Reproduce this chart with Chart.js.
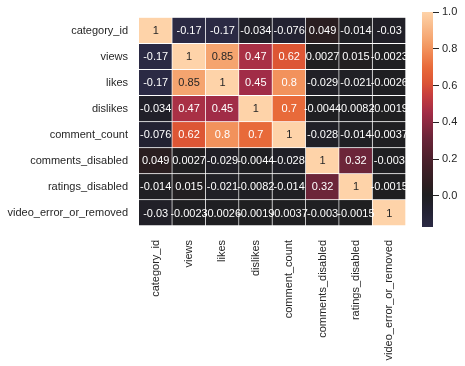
<!DOCTYPE html>
<html>
<head>
<meta charset="utf-8">
<script src="https://cdn.jsdelivr.net/npm/chart.js@4/dist/chart.umd.min.js"></script>
<style>
  html, body { margin: 0; padding: 0; background: #ffffff; }
  #wrap { position: relative; width: 465px; height: 366px; }
  #wrap canvas { position: absolute; left: 0; top: 0; }
</style>
</head>
<body>
<div id="wrap">
  <canvas id="main" width="465" height="366"></canvas>
  <canvas id="cbar" width="465" height="366"></canvas>
</div>
<script>
// ---- data ----
const variables = ["category_id", "views", "likes", "dislikes", "comment_count",
                   "comments_disabled", "ratings_disabled", "video_error_or_removed"];
const row_category_id       = [1, -0.17, -0.17, -0.034, -0.076, 0.049, -0.014, -0.03];
const row_views             = [-0.17, 1, 0.85, 0.47, 0.62, 0.0027, 0.015, -0.0023];
const row_likes             = [-0.17, 0.85, 1, 0.45, 0.8, -0.029, -0.021, -0.0026];
const row_dislikes          = [-0.034, 0.47, 0.45, 1, 0.7, -0.0044, -0.0082, -0.0019];
const row_comment_count     = [-0.076, 0.62, 0.8, 0.7, 1, -0.028, -0.014, -0.0037];
const row_comments_disabled = [0.049, 0.0027, -0.029, -0.0044, -0.028, 1, 0.32, -0.003];
const row_ratings_disabled  = [-0.014, 0.015, -0.021, -0.0082, -0.014, 0.32, 1, -0.0015];
const row_video_error       = [-0.03, -0.0023, -0.0026, -0.0019, -0.0037, -0.003, -0.0015, 1];
const rows = [row_category_id, row_views, row_likes, row_dislikes, row_comment_count,
              row_comments_disabled, row_ratings_disabled, row_video_error];
const colorbarRange = [-0.17, 1];
const colorbarTicks = [0, 0.2, 0.4, 0.6, 0.8, 1.0];

// ---- colormap (value -> rgb) ----
const cmapStops = [
  [-0.17, [43, 42, 68]],
  [-0.076, [35, 34, 50]],
  [0.0, [31, 31, 33]],
  [0.05, [42, 30, 32]],
  [0.2, [76, 32, 44]],
  [0.32, [108, 37, 57]],
  [0.45, [161, 44, 71]],
  [0.55, [200, 62, 62]],
  [0.62, [221, 86, 53]],
  [0.7, [232, 106, 58]],
  [0.8, [242, 146, 92]],
  [0.85, [245, 164, 111]],
  [1.0, [254, 211, 169]]
];
function cmap(v) {
  if (v <= cmapStops[0][0]) return 'rgb(' + cmapStops[0][1].join(',') + ')';
  for (let k = 1; k < cmapStops.length; k++) {
    const [v1, c1] = cmapStops[k];
    const [v0, c0] = cmapStops[k - 1];
    if (v <= v1) {
      const t = (v - v0) / (v1 - v0);
      const c = c0.map((a, i) => Math.round(a + (c1[i] - a) * t));
      return 'rgb(' + c.join(',') + ')';
    }
  }
  return 'rgb(' + cmapStops[cmapStops.length - 1][1].join(',') + ')';
}

const FONT = "'Liberation Sans', Arial, sans-serif";
const TEXT = '#262626';

// ---- main heatmap ----
const datasets = rows.map((r, i) => ({
  label: variables[i],
  data: r.map(() => 1),
  backgroundColor: r.map(v => cmap(v)),
  borderColor: '#ffffff',
  borderWidth: { top: 0, left: 0, right: 1, bottom: 1 },
  borderSkipped: false,
  barPercentage: 1,
  categoryPercentage: 1
}));

const annotate = {
  id: 'annotate',
  afterDatasetsDraw(chart) {
    const c = chart.ctx;
    c.save();
    c.font = '11px ' + FONT;
    c.textAlign = 'center';
    c.textBaseline = 'middle';
    rows.forEach((r, i) => {
      const meta = chart.getDatasetMeta(i);
      meta.data.forEach((bar, j) => {
        const p = bar.getProps(['x', 'y', 'base'], true);
        const v = r[j];
        c.fillStyle = v >= 0.83 ? TEXT : '#ffffff';
        c.fillText(String(v), p.x, (p.y + p.base) / 2 + 0.5);
      });
    });
    c.restore();
  }
};

new Chart(document.getElementById('main'), {
  type: 'bar',
  data: { labels: variables, datasets },
  options: {
    responsive: false,
    animation: false,
    layout: { padding: { top: 12, right: 59, left: 0, bottom: 0 } },
    plugins: { legend: { display: false }, tooltip: { enabled: false } },
    scales: {
      x: {
        stacked: true,
        grid: { display: false, drawTicks: false },
        border: { display: false },
        ticks: {
          autoSkip: false, minRotation: 90, maxRotation: 90, padding: 14,
          color: TEXT, font: { family: FONT, size: 11 }
        },
        afterFit(s) { s.height = 140; }
      },
      y: {
        type: 'linear', stacked: true, reverse: true, min: 0, max: rows.length,
        grid: { display: false, drawTicks: false },
        border: { display: false },
        afterBuildTicks(s) { s.ticks = variables.map((_, i) => ({ value: i + 0.5 })); },
        ticks: {
          padding: 11, color: TEXT, font: { family: FONT, size: 11 },
          callback: (v, idx) => variables[idx]
        },
        afterFit(s) { s.width = 139; }
      }
    }
  },
  plugins: [annotate]
});

// ---- colorbar ----
new Chart(document.getElementById('cbar'), {
  type: 'bar',
  data: {
    labels: [''],
    datasets: [{
      data: [colorbarRange],
      barPercentage: 1, categoryPercentage: 1, borderWidth: 0,
      backgroundColor(ctx) {
        const ch = ctx.chart;
        if (!ch.chartArea) return 'black';
        const ys = ch.scales.y;
        const y0 = ys.getPixelForValue(colorbarRange[0]);
        const y1 = ys.getPixelForValue(colorbarRange[1]);
        const g = ch.ctx.createLinearGradient(0, y0, 0, y1);
        const span = colorbarRange[1] - colorbarRange[0];
        for (let k = 0; k <= 60; k++) {
          const v = colorbarRange[0] + span * k / 60;
          g.addColorStop(k / 60, cmap(v));
        }
        return g;
      }
    }]
  },
  options: {
    responsive: false,
    animation: false,
    layout: { padding: { top: 12, right: 0, left: 422, bottom: 139 } },
    plugins: { legend: { display: false }, tooltip: { enabled: false } },
    scales: {
      x: { display: false },
      y: {
        position: 'right',
        min: colorbarRange[0], max: colorbarRange[1],
        border: { display: false },
        grid: { drawOnChartArea: false, drawTicks: true, tickLength: 6, color: TEXT, tickColor: TEXT },
        afterBuildTicks(s) { s.ticks = colorbarTicks.map(v => ({ value: v })); },
        ticks: {
          padding: 3, color: TEXT, font: { family: FONT, size: 11 },
          callback: v => v.toFixed(1)
        },
        afterFit(s) { s.width = 32; }
      }
    }
  }
});
</script>
</body>
</html>
